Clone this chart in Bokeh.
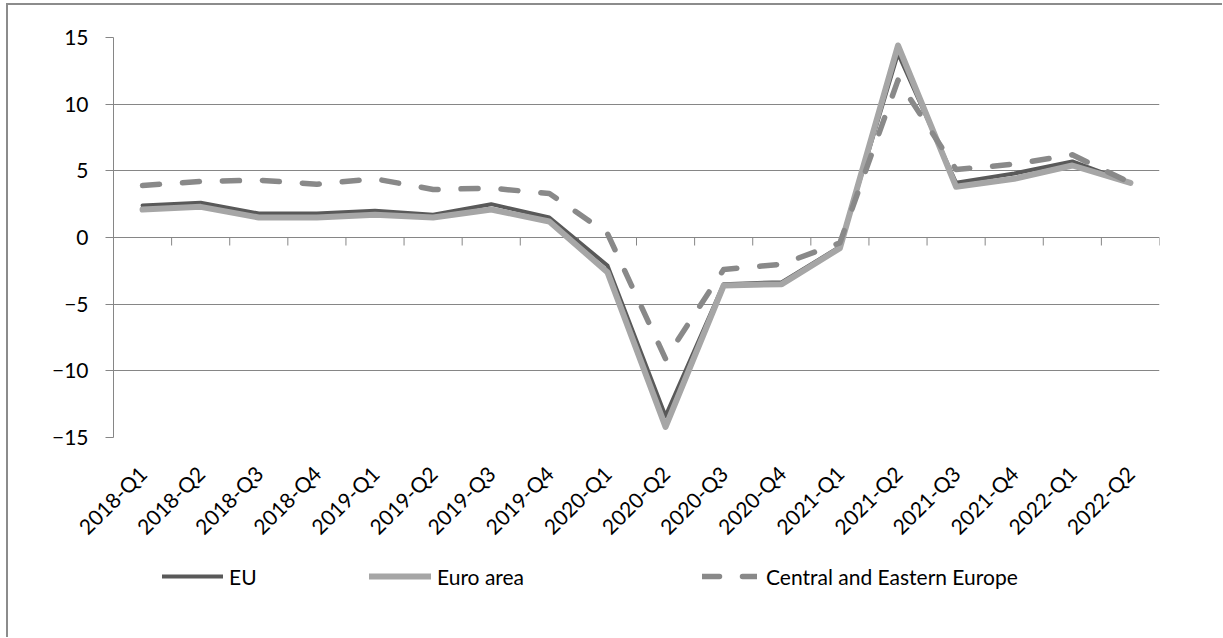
from math import pi

from bokeh.embed import file_html
from bokeh.resources import INLINE
from bokeh.layouts import column
from bokeh.plotting import figure
from bokeh.models import FactorRange, Range1d, FixedTicker, Legend, LegendItem

# Quarterly values (%)
quarters = ["2018-Q1", "2018-Q2", "2018-Q3", "2018-Q4",
            "2019-Q1", "2019-Q2", "2019-Q3", "2019-Q4",
            "2020-Q1", "2020-Q2", "2020-Q3", "2020-Q4",
            "2021-Q1", "2021-Q2", "2021-Q3", "2021-Q4",
            "2022-Q1", "2022-Q2"]
eu = [2.4, 2.6, 1.8, 1.8, 2.0, 1.7, 2.5, 1.5,
      -2.1, -13.4, -3.5, -3.35, -0.7, 13.8, 4.1, 4.8, 5.7, 4.1]
euro_area = [2.1, 2.3, 1.5, 1.5, 1.7, 1.5, 2.1, 1.2,
             -2.6, -14.2, -3.6, -3.5, -0.8, 14.4, 3.8, 4.4, 5.4, 4.1]
cee = [3.9, 4.2, 4.3, 4.0, 4.4, 3.6, 3.7, 3.3,
       0.3, -9.1, -2.4, -2.0, -0.4, 11.8, 5.1, 5.5, 6.2, 4.1]
y_ticks = [-15, -10, -5, 0, 5, 10, 15]

FONT = "Lato"
FONT_SIZE = "21px"
GRID = "#868686"
STYLES = {
    "EU": dict(line_color="#595959", line_width=4),
    "Euro area": dict(line_color="#A6A6A6", line_width=6),
    "Central and Eastern Europe": dict(line_color="#898989", line_width=5.5,
                                       line_dash="17 23"),
}

p = figure(width=1214, height=548, x_range=FactorRange(*quarters),
           y_range=Range1d(-15, 15), output_backend="svg",
           toolbar_location=None, min_border_left=105, min_border_right=63,
           min_border_top=32, min_border_bottom=116)
p.outline_line_color = None
p.background_fill_color = "white"
p.border_fill_color = "white"

# value axis
p.yaxis.ticker = FixedTicker(ticks=y_ticks)
p.yaxis.axis_line_color = GRID
p.yaxis.major_tick_line_color = GRID
p.yaxis.major_tick_out = 8
p.yaxis.major_tick_in = 0
p.yaxis.minor_tick_line_color = None
p.yaxis.major_label_standoff = 17
p.yaxis.major_label_text_font = FONT
p.yaxis.major_label_text_font_size = FONT_SIZE
p.yaxis.major_label_text_color = "#000000"

# category axis (labels only; the zero line carries the ticks)
p.xaxis.axis_line_color = None
p.xaxis.major_tick_line_color = None
p.xaxis.major_label_orientation = pi / 4
p.xaxis.major_label_standoff = 26
p.xaxis.major_label_text_font = FONT
p.xaxis.major_label_text_font_size = FONT_SIZE
p.xaxis.major_label_text_color = "#000000"

p.xgrid.grid_line_color = None
p.ygrid.ticker = FixedTicker(ticks=y_ticks)
p.ygrid.grid_line_color = GRID
p.ygrid.grid_line_width = 1

# tick marks between categories, hanging below the zero line
bounds = list(range(len(quarters) + 1))
p.segment(x0=bounds, y0=[0] * len(bounds), x1=bounds, y1=[-0.6] * len(bounds),
          line_color=GRID, line_width=1)

for name, series in [("EU", eu), ("Euro area", euro_area),
                     ("Central and Eastern Europe", cee)]:
    p.line(quarters, series, line_join="round", line_cap="round", **STYLES[name])

# legend strip underneath the chart (its frame lines up with the chart frame)
key = figure(width=1214, height=84, x_range=Range1d(0, 1), y_range=Range1d(0, 1),
             output_backend="svg", toolbar_location=None,
             x_axis_type=None, y_axis_type=None,
             min_border_left=105, min_border_right=63,
             min_border_top=0, min_border_bottom=0)
key.outline_line_color = None
key.grid.visible = False

KEY_H = 26
nan = float("nan")
for name, x, glyph_w, standoff in [("EU", 49, 61, 6),
                                   ("Euro area", 256, 62, 6),
                                   ("Central and Eastern Europe", 589, 55, 9)]:
    # style carrier for the legend key; a NaN point draws nothing
    r = key.line([nan], [nan], line_join="round", line_cap="round", **STYLES[name])
    key.add_layout(Legend(items=[LegendItem(label=name, renderers=[r])],
                          location=(x, 48),
                          orientation="horizontal",
                          glyph_width=glyph_w, glyph_height=KEY_H,
                          label_height=KEY_H, label_standoff=standoff,
                          padding=0, margin=0, spacing=0,
                          border_line_color=None, background_fill_alpha=0,
                          label_text_font=FONT, label_text_font_size=FONT_SIZE,
                          label_text_color="#000000"))

page = column(p, key, spacing=0,
              styles={"margin-left": "6px", "margin-top": "3px",
                      "border-left": "2px solid #8c8c8c",
                      "border-top": "2px solid #8c8c8c"})

open("out.html", "w").write(file_html(page, INLINE))
